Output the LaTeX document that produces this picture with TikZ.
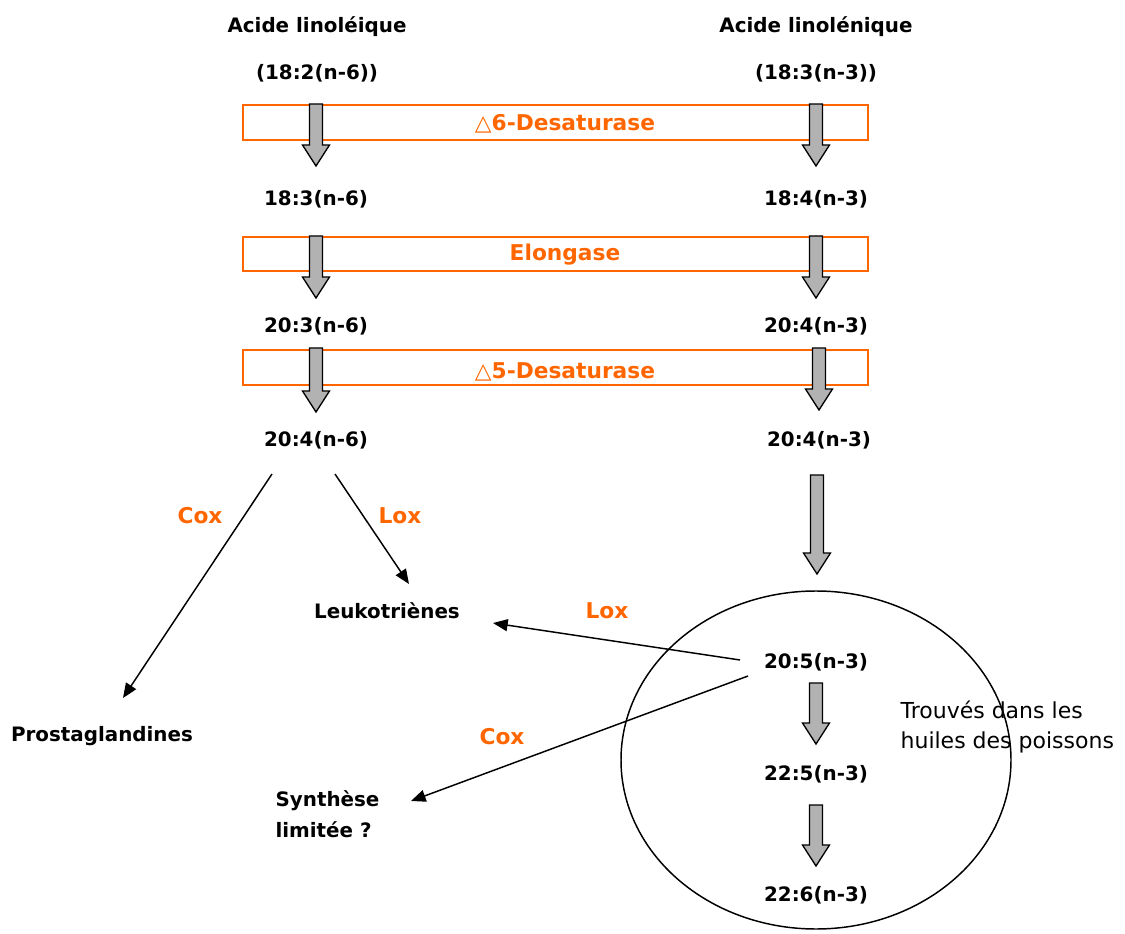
\documentclass[tikz,border=0pt]{standalone}
\usepackage{fontspec}
\setmainfont{DejaVu Sans}
\usetikzlibrary{arrows.meta}
\definecolor{enz}{HTML}{FF6600}
\definecolor{gfill}{HTML}{B2B2B2}
\newcommand\blockarrow[3]{% x, ytop, ytip
  \draw[blockstyle] (#1-6.5,#2) -- (#1+6.5,#2) -- (#1+6.5,#3-21) -- (#1+13.5,#3-21) -- (#1,#3) -- (#1-13.5,#3-21) -- (#1-6.5,#3-21) -- cycle;}
\begin{document}
\begin{tikzpicture}[x=0.75pt,y=-0.75pt,
  lab/.style={font=\bfseries\fontsize{14.9}{23}\selectfont, inner sep=1pt},
  enzlab/.style={font=\bfseries\fontsize{16.3}{18}\selectfont, text=enz, inner sep=1pt},
  enzbox/.style={draw=enz, line width=1.5pt},
  blockstyle/.style={draw=black, fill=gfill, line width=1pt, line join=miter},
  thin/.style={draw=black, line width=1.1pt, -{Triangle[length=11pt,width=9pt]}},
  note/.style={font=\fontsize{16.5}{22.5}\selectfont, align=left, inner sep=1pt}]
\useasboundingbox (0,0) rectangle (1125,934);
% enzyme boxes
\draw[enzbox] (243,105) rectangle (868,140);
\draw[enzbox] (243,237) rectangle (868,271);
\draw[enzbox] (243,350) rectangle (868,385);
% block arrows
\blockarrow{316}{104}{166}
\blockarrow{816}{104}{166}
\blockarrow{316}{236}{298}
\blockarrow{816}{236}{298}
\blockarrow{316}{348}{412}
\blockarrow{819}{348}{410}
\blockarrow{817}{475}{574}
\blockarrow{816}{683}{744}
\blockarrow{816}{805}{866}
% enzyme labels
\node[enzlab] (d6) at (565,124) {△6-Desaturase};
\node[enzlab] (el) at (565,255) {Elongase};
\node[enzlab] (d5) at (565,372) {△5-Desaturase};
% left column
\node[lab] (a1) at (317,27) {Acide linoléique};
\node[lab] (a2) at (317,73) {(18:2(n-6))};
\node[lab] (l1) at (316,199) {18:3(n-6)};
\node[lab] (l2) at (316,326) {20:3(n-6)};
\node[lab] (l3) at (316,440) {20:4(n-6)};
% right column
\node[lab] (b1) at (816,27) {Acide linolénique};
\node[lab] (b2) at (816,73) {(18:3(n-3))};
\node[lab] (r1) at (816,199) {18:4(n-3)};
\node[lab] (r2) at (816,326) {20:4(n-3)};
\node[lab] (r3) at (819,440) {20:4(n-3)};
\node[lab] (r4) at (816,662) {20:5(n-3)};
\node[lab] (r5) at (816,774) {22:5(n-3)};
\node[lab] (r6) at (816,895) {22:6(n-3)};
% products
\node[lab] (leuko) at (387,611) {Leukotriènes};
\node[lab] (prosta) at (102,736) {Prostaglandines};
\node[lab, align=left, anchor=west] (synth) at (274,814) {Synthèse\\limitée ?};
\node[note, anchor=west] (trouve) at (899,727) {Trouvés dans les\\huiles des poissons};
% cox / lox labels
\node[enzlab] (cox1) at (200,516) {Cox};
\node[enzlab] (lox1) at (400,516) {Lox};
\node[enzlab] (lox2) at (607,611) {Lox};
\node[enzlab] (cox2) at (502,737) {Cox};
% coordinates for connectors
\coordinate (s1) at (272,474);
\coordinate (e1) at (123,698);
\coordinate (s2) at (335,474);
\coordinate (e2) at (409,584);
\coordinate (s3) at (740,660);
\coordinate (e3) at (493,623);
\coordinate (s4) at (748,676);
\coordinate (e4) at (411,801);
\draw[thin] (s1) -- (e1);
\draw[thin] (s2) -- (e2);
\draw[thin] (s3) -- (e3);
\draw[thin] (s4) -- (e4);
% ellipse
\draw[line width=1.1pt] (816,760) ellipse [x radius=146.25pt, y radius=126.75pt];
\end{tikzpicture}
\end{document}
